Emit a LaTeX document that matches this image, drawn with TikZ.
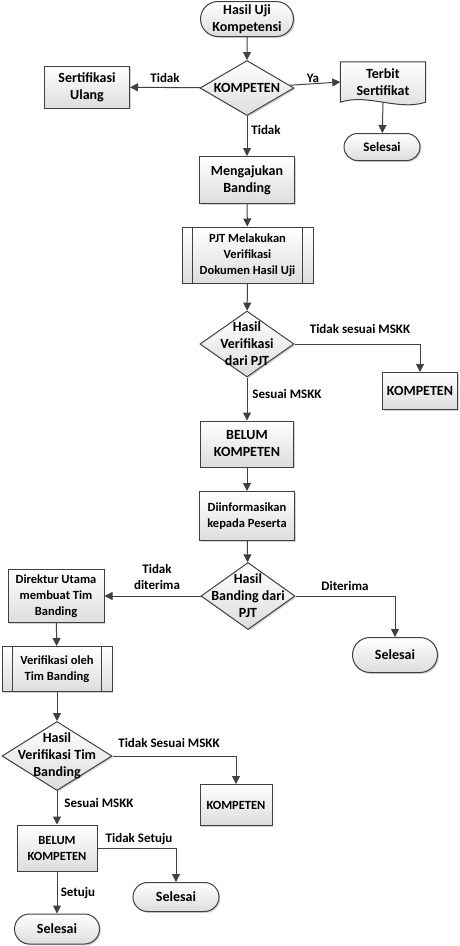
\documentclass[tikz,border=0pt]{standalone}
\usepackage{fontspec}
\setmainfont{Carlito}
\usetikzlibrary{arrows.meta, positioning, shapes.geometric, shapes.misc, shadows}
\definecolor{fline}{HTML}{404040}
\definecolor{ffill}{HTML}{DDDDDD}

\tikzset{
  base/.style={draw=fline, line width=1pt, top color=white, bottom color=ffill,
    align=center, inner sep=1pt, text=black,
    drop shadow={shadow xshift=1.4pt, shadow yshift=-1.4pt, opacity=0.35}},
  bigtxt/.style={font=\bfseries\fontsize{14}{17}\selectfont},
  smalltxt/.style={font=\bfseries\fontsize{12.5}{16}\selectfont},
  procbox/.style={base, rectangle, bigtxt},
  subproc/.style={base, rectangle, smalltxt},
  termbox/.style={base, rounded rectangle, bigtxt},
  decbox/.style={base, diamond},
  dectext/.style={bigtxt, align=center, inner sep=0pt},
  flow/.style={draw=fline, line width=1pt, -{Triangle[length=8pt, width=8pt]}},
  lbl/.style={font=\bfseries\fontsize{13}{16}\selectfont, align=center}
}

\begin{document}
\begin{tikzpicture}[x=1pt, y=-1pt]
  \useasboundingbox (0,0) rectangle (460,946);

  %% Top part
  \node[termbox, minimum width=95, minimum height=35] (start) at (247,19) {Hasil Uji\\Kompetensi};
  \node[decbox, minimum width=94, minimum height=55, label={[dectext]center:KOMPETEN}] (kompq) at (247,88) {};
  \node[procbox, minimum width=85, minimum height=42] (ulang) at (87,87) {Sertifikasi\\Ulang};
  \node[minimum width=85, minimum height=40] (cert) at (383,82) {};
  \fill[fline, opacity=0.35, xshift=1.4pt, yshift=-1.4pt] (cert.north west) -- (cert.north east) -- (cert.south east)
    .. controls ([xshift=-28pt, yshift=-9pt]cert.south east) and ([xshift=28pt, yshift=9pt]cert.south west) .. (cert.south west) -- cycle;
  \draw[draw=fline, line width=1pt, top color=white, bottom color=ffill] (cert.north west) -- (cert.north east) -- (cert.south east)
    .. controls ([xshift=-28pt, yshift=-9pt]cert.south east) and ([xshift=28pt, yshift=9pt]cert.south west) .. (cert.south west) -- cycle;
  \node[bigtxt, align=center] (certtxt) at (cert) {Terbit\\Sertifikat};
  \node[termbox, font=\bfseries\fontsize{13}{16}\selectfont, minimum width=78, minimum height=27] (end1) at (382,147) {Selesai};
  \node[procbox, minimum width=95, minimum height=47] (banding) at (247,180) {Mengajukan\\Banding};

  \draw[flow] (start) -- (kompq);
  \draw[flow] (kompq) -- (ulang);
  \draw[flow] (kompq) -- (cert.west);
  \draw[flow] (cert.south) -- (end1);
  \draw[flow] (kompq) -- (banding);
  \node[lbl] (l1) at (165,78) {Tidak};
  \node[lbl] (l2) at (313,78) {Ya};
  \node[lbl] (l3) at (266,130) {Tidak};

  %% Verifikasi PJT
  \node[subproc, minimum width=131, minimum height=56] (pjt) at (247.5,255) {PJT Melakukan\\Verifikasi\\Dokumen Hasil Uji};
  \draw[fline, line width=1pt] ([xshift=11pt]pjt.north west) -- ([xshift=11pt]pjt.south west);
  \draw[fline, line width=1pt] ([xshift=-11pt]pjt.north east) -- ([xshift=-11pt]pjt.south east);
  \node[decbox, minimum width=94, minimum height=66, label={[dectext]center:{Hasil\\Verifikasi\\dari PJT}}] (pjtq) at (247,344) {};
  \node[procbox, minimum width=75, minimum height=37] (komp1) at (420,391) {KOMPETEN};
  \node[procbox, minimum width=93, minimum height=46] (belum1) at (247,444) {BELUM\\KOMPETEN};
  \node[subproc, minimum width=95, minimum height=49] (info) at (247,516) {Diinformasikan\\kepada Peserta};

  \draw[flow] (banding) -- (pjt);
  \draw[flow] (pjt) -- (pjtq);
  \draw[flow] (pjtq.east) -| (komp1);
  \draw[flow] (pjtq) -- (belum1);
  \draw[flow] (belum1) -- (info);
  \node[lbl] (l4) at (360,329) {Tidak sesuai MSKK};
  \node[lbl] (l5) at (287,394) {Sesuai MSKK};

  %% Banding
  \node[decbox, minimum width=94, minimum height=67, label={[dectext]center:{Hasil\\Banding dari\\PJT}}] (bandq) at (248,596) {};
  \node[subproc, minimum width=96, minimum height=53] (direktur) at (56,596) {Direktur Utama\\membuat Tim\\Banding};
  \node[termbox, minimum width=87, minimum height=35] (end2) at (395,655) {Selesai};
  \node[subproc, minimum width=110, minimum height=45] (tim) at (57,669) {Verifikasi oleh\\Tim Banding};
  \draw[fline, line width=1pt] ([xshift=11pt]tim.north west) -- ([xshift=11pt]tim.south west);
  \draw[fline, line width=1pt] ([xshift=-11pt]tim.north east) -- ([xshift=-11pt]tim.south east);

  \draw[flow] (info) -- (bandq);
  \draw[flow] (bandq) -- (direktur);
  \draw[flow] (bandq.east) -| (end2);
  \draw[flow] (direktur) -- (tim);
  \node[lbl] (l6) at (157,577) {Tidak\\diterima};
  \node[lbl] (l7) at (345,586) {Diterima};

  %% Tim Banding
  \node[decbox, minimum width=110, minimum height=69, label={[dectext]center:{Hasil\\Verifikasi Tim\\Banding}}] (timq) at (57,756) {};
  \node[subproc, minimum width=72, minimum height=41] (komp2) at (236,805) {KOMPETEN};
  \node[subproc, minimum width=80, minimum height=46] (belum2) at (57,848) {BELUM\\KOMPETEN};
  \node[termbox, minimum width=88, minimum height=29] (end3) at (176,897) {Selesai};
  \node[termbox, minimum width=87, minimum height=30] (end4) at (57,929) {Selesai};

  \draw[flow] (tim) -- (timq);
  \draw[flow] (timq.east) -| (komp2);
  \draw[flow] (timq) -- (belum2);
  \draw[flow] (belum2.east) -| (end3);
  \draw[flow] (belum2) -- (end4);
  \node[lbl] (l8) at (169,743) {Tidak Sesuai MSKK};
  \node[lbl] (l9) at (99,803) {Sesuai MSKK};
  \node[lbl] (l10) at (139,839) {Tidak Setuju};
  \node[lbl] (l11) at (78,893) {Setuju};

\end{tikzpicture}
\end{document}
